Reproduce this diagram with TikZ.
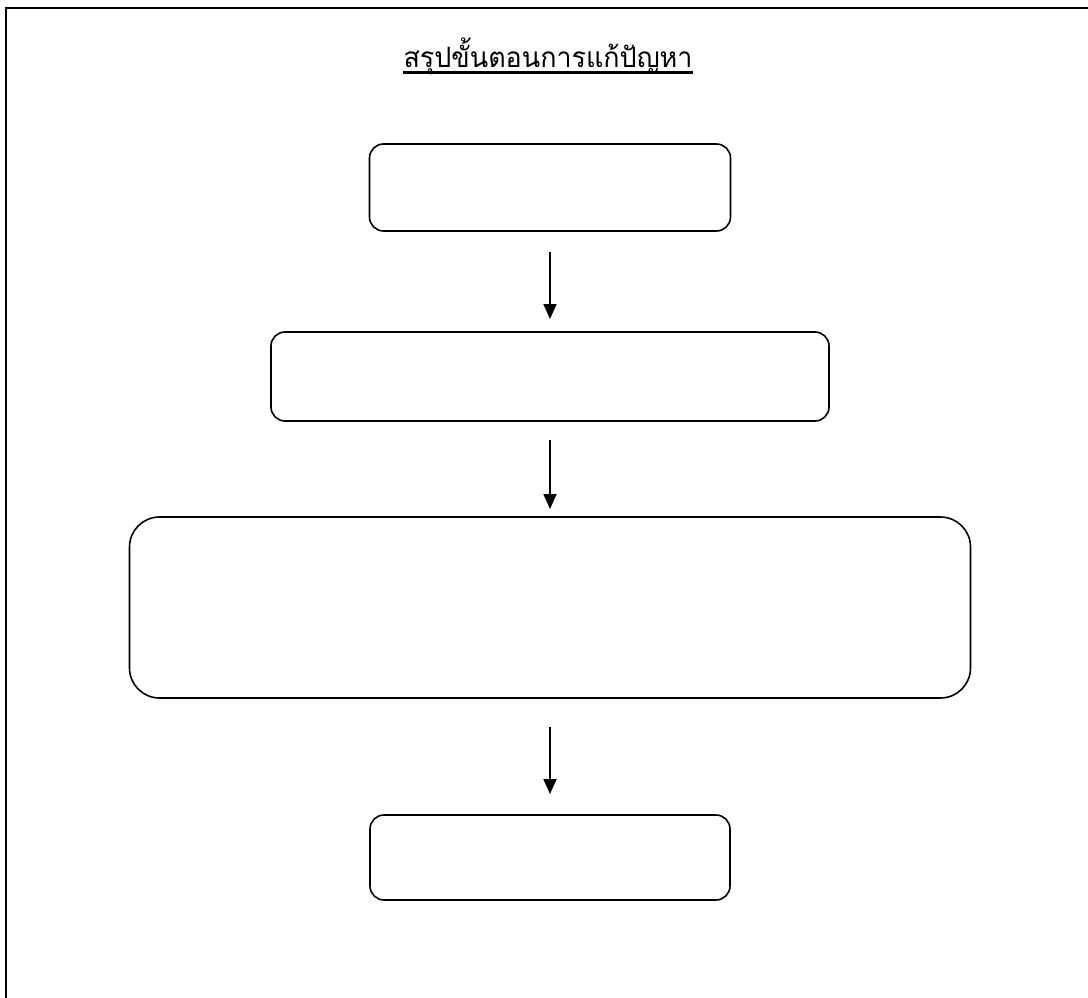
\documentclass[tikz,border=0pt]{standalone}
\usepackage{graphicx}
\usepackage{fontspec}
\newfontfamily\thaifont[Script=Thai]{Loma}
\usetikzlibrary{arrows.meta, positioning}
\tikzset{
  box/.style={draw, line width=1.6pt, rounded corners=14pt, minimum width=#1,
    minimum height=87pt, inner sep=0pt, outer sep=0pt},
  arr/.style={-{Triangle[length=15pt, width=13pt]}, line width=1.8pt},
}

\begin{document}
\begin{tikzpicture}[x=1pt, y=-1pt, node distance=100pt]
    \useasboundingbox (0,0) rectangle (1088,998);
    \draw[line width=2pt] (6,1000) -- (6,8) -- (1090,8);
    \node[font=\thaifont\fontsize{28}{32}\selectfont, anchor=base, inner sep=0pt] (title) at (548,68)
      {\resizebox{289pt}{\height}{สรุปขั้นตอนการแก้ปัญหา}};
    \draw[line width=2.2pt] ([yshift=-4.5pt]title.base west) -- ([yshift=-4.5pt]title.base east);
    \node[box=361pt] (b1) at (550,187.5) {};
    \node[box=558pt, minimum height=89pt, below=101pt of b1] (b2) {};
    \node[box=841pt, minimum height=181pt, rounded corners=30pt, below=96pt of b2] (b3) {};
    \node[box=360pt, minimum height=85pt, below=117pt of b3] (b4) {};
    \draw[arr, shorten <=21pt, shorten >=13pt] (b1.south) -- (b2.north);
    \draw[arr, shorten <=19pt, shorten >=8pt] (b2.south) -- (b3.north);
    \draw[arr, shorten <=29pt, shorten >=21pt] (b3.south) -- (b4.north);
\end{tikzpicture}
\end{document}
